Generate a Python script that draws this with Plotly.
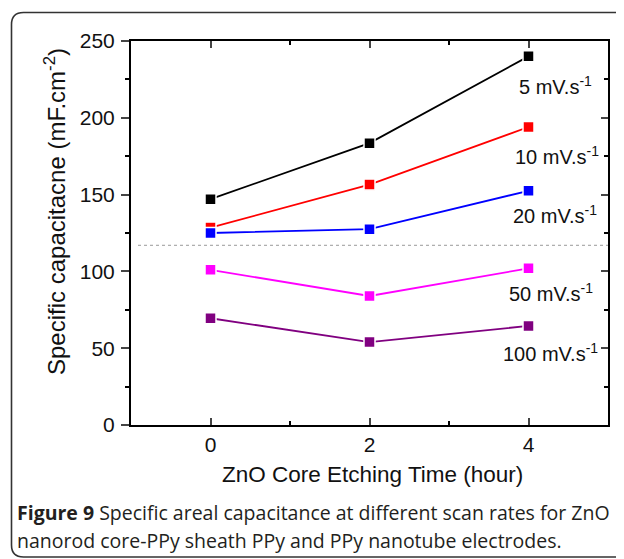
import plotly.graph_objects as go

etch_time = [0, 2, 4]
rate_labels = ["5 mV.s<sup>-1</sup>", "10 mV.s<sup>-1</sup>", "20 mV.s<sup>-1</sup>",
               "50 mV.s<sup>-1</sup>", "100 mV.s<sup>-1</sup>"]
cap_5 = [147, 183.5, 240]
cap_10 = [128.5, 156.5, 194]
cap_20 = [125, 127.5, 152.5]
cap_50 = [101, 84, 102]
cap_100 = [69.5, 54, 64.5]
colors = ["#000000", "#ff0000", "#0000ff", "#ff00ff", "#800080"]
ref_level = 117
y_ticks = [0, 50, 100, 150, 200, 250]
y_minor = [25, 75, 125, 175, 225]
x_ticks = [0, 2, 4]
x_minor = [1, 3]

series = [cap_5, cap_10, cap_20, cap_50, cap_100]

OFF = 8  # default page body margin
W, H = 624 - OFF, 559 - OFF
L, R, T, B = 131 - OFF, 608 - OFF, 41 - OFF, 425 - OFF
pw, ph = R - L, B - T

def px(x):
    return (x - OFF - L) / pw

def py(y):
    return (B - (y - OFF)) / ph

fig = go.Figure()
for vals, col in zip(series, colors):
    fig.add_trace(go.Scatter(
        x=etch_time, y=vals, mode="lines+markers",
        line=dict(color=col, width=1.8),
        marker=dict(symbol="square", size=11, color=col, line=dict(color="white", width=1.5)),
        showlegend=False, hoverinfo="x+y"))

fig.add_shape(type="line", xref="paper", yref="y", x0=px(138), x1=1, y0=ref_level, y1=ref_level,
              line=dict(color="#999999", width=1, dash="dot"), layer="below")

lab_font = dict(family="Liberation Sans, Arial", size=20, color="#111")
label_px = [(555, 85), (557, 155), (555, 214), (551, 292), (550, 352)]
for txt, (lx, ly) in zip(rate_labels, label_px):
    fig.add_annotation(xref="paper", yref="paper", x=px(lx), y=py(ly), text=txt,
                       showarrow=False, font=lab_font, xanchor="center", yanchor="middle")

# axis titles
fig.add_annotation(xref="paper", yref="paper", x=px(372), y=py(474),
                   text="ZnO Core Etching Time (hour)", showarrow=False,
                   font=dict(family="Liberation Sans, Arial", size=22.5, color="#111"),
                   xanchor="center", yanchor="middle")
fig.add_annotation(xref="paper", yref="paper", x=px(55), y=py(212),
                   text="Specific capacitacne (mF.cm<sup>-2</sup>)", showarrow=False, textangle=-90,
                   font=dict(family="Liberation Sans, Arial", size=24, color="#111"),
                   xanchor="center", yanchor="middle")

# rounded border
x0, x1 = px(11.5), px(640)
y0, y1 = py(557), py(12.5)
rx, ry = 12 / pw, 12 / ph
path = (f"M {x0},{y0+ry} L {x0},{y1-ry} Q {x0},{y1} {x0+rx},{y1} L {x1},{y1} "
        f"M {x0},{y0+ry} Q {x0},{y0} {x0+rx},{y0} L {x1},{y0}")
fig.add_shape(type="path", xref="paper", yref="paper", path=path,
              line=dict(color="#333333", width=1.6))

cap_font = dict(family="Open Sans", size=19.5, color="#231f20")
fig.add_annotation(xref="paper", yref="paper", x=px(15), y=py(512),
                   text="<b>Figure 9</b> Specific areal capacitance at different scan rates for ZnO",
                   showarrow=False, xanchor="left", yanchor="middle", font=cap_font)
fig.add_annotation(xref="paper", yref="paper", x=px(15), y=py(540),
                   text="nanorod core-PPy sheath PPy and PPy nanotube electrodes.",
                   showarrow=False, xanchor="left", yanchor="middle", font=cap_font)

tick_font = dict(family="Liberation Sans, Arial", size=21, color="#111")
fig.update_layout(
    width=W, height=H, margin=dict(l=L, r=W - R, t=T, b=H - B),
    paper_bgcolor="white", plot_bgcolor="white",
    xaxis=dict(range=[-1, 5], tickvals=x_ticks, ticks="inside", ticklen=7, tickwidth=1.5,
               showline=True, linecolor="black", linewidth=2, mirror="ticks",
               showgrid=False, zeroline=False, tickfont=tick_font,
               minor=dict(tickvals=x_minor, ticks="inside", ticklen=4, tickwidth=1.5, tickcolor="black")),
    yaxis=dict(range=[0, 250], tickvals=y_ticks, ticks="outside", ticklen=8,
               tickwidth=1.5, showline=True, linecolor="black", linewidth=2,
               showgrid=False, zeroline=False, tickfont=tick_font, ticklabelstandoff=2,
               minor=dict(tickvals=y_minor, ticks="outside", ticklen=4, tickwidth=1.5, tickcolor="black")),
    yaxis2=dict(range=[0, 250], overlaying="y", side="right", tickvals=y_ticks,
                ticks="inside", ticklen=7, tickwidth=1.5, showticklabels=False,
                showline=True, linecolor="black", linewidth=2, showgrid=False, zeroline=False,
                minor=dict(tickvals=y_minor, ticks="inside", ticklen=4, tickwidth=1.5, tickcolor="black")),
)
fig.add_trace(go.Scatter(x=[None], y=[None], yaxis="y2", showlegend=False, hoverinfo="skip"))
fig.write_html("out.html")
